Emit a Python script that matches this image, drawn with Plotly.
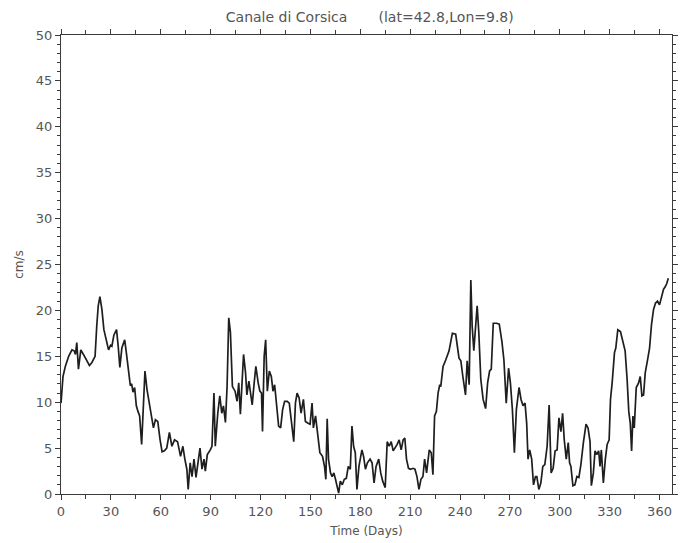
import plotly.graph_objects as go

# Daily mean current speed, Canale di Corsica (lat=42.8, Lon=9.8)
days = [
    0.0, 1.2, 2.6, 4.6, 6.6, 7.9, 8.7, 9.5, 10.5, 11.9, 13.5, 15.5, 17.1, 18.5, 20.5,
    21.5, 22.4, 23.4, 24.6, 25.8, 27.4, 28.6, 29.8, 30.6, 31.8, 33.4, 34.4, 35.4, 36.6,
    38.3, 39.3, 40.5, 41.7, 42.5, 43.3, 44.3, 45.3, 46.3, 47.3, 48.5, 49.7, 50.5, 51.7,
    52.8, 54.2, 55.6, 56.8, 58.2, 59.6, 60.8, 62.2, 63.6, 65.2, 66.7, 68.3, 70.1,
    71.9, 73.3, 74.5, 75.7, 76.5, 77.7, 78.8, 80.0, 81.2, 82.4, 83.6, 84.8, 86.0, 86.8,
    88.0, 89.8, 90.8, 92.0, 92.8, 94.3, 95.5, 96.7, 97.7, 98.9, 99.9, 100.9, 101.9,
    103.1, 104.7, 105.9, 106.9, 107.9, 108.8, 109.8, 111.0, 111.8, 113.0, 114.2, 115.0,
    116.2, 117.2, 118.6, 119.6, 120.6, 121.2, 122.2, 123.1, 124.1, 125.3, 126.5, 127.5,
    128.5, 129.7, 130.9, 132.1, 133.3, 134.5, 136.1, 137.3, 138.4, 140.0, 141.0, 142.0,
    143.2, 144.4,
    145.8, 147.0, 148.6, 149.8, 151.0, 151.8, 153.1, 154.5, 155.7, 157.3, 158.5, 159.3,
    160.1, 160.9, 162.1, 163.1, 164.1, 165.1, 166.1, 167.0, 168.0, 169.2, 170.4, 171.6,
    172.8, 174.0, 175.0, 176.0, 177.0, 178.0, 179.2, 181.0, 182.0, 183.1, 184.3, 185.9,
    187.1, 188.3, 189.5, 191.1, 192.3, 193.5, 195.0, 196.2, 197.4, 198.6, 199.8, 201.0,
    202.2, 203.4, 204.6, 205.8, 206.8, 207.8, 209.0, 210.2, 211.7, 212.9, 214.1, 215.3,
    216.5, 217.7,
    218.7, 219.9, 221.5, 222.7, 223.7, 224.7, 225.8, 226.8, 227.8, 228.4, 229.8, 231.4,
    233.4, 235.4, 237.4, 239.4, 240.5, 241.7, 243.3, 244.3, 245.5, 246.5, 247.3, 248.3,
    249.3, 250.3, 251.3, 252.5, 253.9, 255.4, 256.6, 257.8, 258.8, 260.0, 262.0, 263.6,
    265.2, 266.4, 267.8, 269.2, 270.3, 271.5, 272.7, 273.9, 275.5, 276.7, 277.9, 279.1,
    280.1, 280.9, 281.9, 283.1, 284.2, 285.4, 286.2, 287.4, 288.6, 289.8, 291.0,
    292.4, 293.6, 294.8, 296.0, 297.2, 298.4, 299.5, 300.7, 301.7, 302.7, 303.9, 305.1,
    305.9, 306.7, 307.9, 309.1, 310.3, 311.5, 312.7, 314.2, 315.8, 317.0, 318.2, 319.0,
    320.2, 321.2, 322.2, 323.4, 324.2, 325.0, 326.2, 327.4, 328.5, 329.7, 330.5, 331.5,
    332.9, 333.7, 334.9, 336.5, 338.1, 339.3, 340.5, 341.5, 342.4, 343.2, 344.0, 344.8,
    346.0, 347.4, 348.4, 349.4, 350.4, 351.4, 352.8, 354.0, 355.2, 356.4, 357.6, 358.8,
    360.0, 361.2, 362.4, 363.5, 364.3, 365.3,
]

speed = [
    9.9, 12.8, 13.9, 15.0, 15.7, 15.6, 15.2, 16.5, 13.6, 15.7, 15.2, 14.5, 14.0, 14.3, 15.0,
    18.3, 20.5, 21.5, 20.1, 17.9, 16.5, 15.7, 16.2, 16.1, 17.3, 17.9, 16.1, 13.8, 15.9,
    16.8, 15.4, 13.6, 11.8, 12.0, 11.1, 11.6, 9.6, 9.0, 8.5, 5.4, 10.3, 13.4, 11.4,
    10.3, 8.8, 7.2, 8.1, 7.9, 5.9, 4.6, 4.7, 5.0, 6.7, 5.2, 5.9, 5.7,
    4.1, 5.2, 3.8, 2.7, 0.5, 3.4, 1.9, 3.8, 1.8, 3.4, 5.0, 2.7, 3.8, 2.5,
    4.3, 4.8, 5.2, 11.0, 5.2, 8.8, 10.7, 8.8, 9.6, 7.8, 11.7, 19.2, 17.6,
    11.7, 11.2, 10.1, 12.1, 8.7, 12.5, 15.2, 13.2, 10.8, 12.3, 11.0, 9.7,
    12.1, 13.9, 12.1, 11.2, 11.0, 6.8, 15.0, 16.8, 11.2, 13.4, 12.8, 11.2,
    11.9, 9.9, 7.4, 7.2, 9.2, 10.1, 10.1, 9.9, 8.1, 5.7, 9.9, 11.0,
    10.5, 8.8,
    10.3, 7.9, 7.7, 7.6, 9.9, 7.2, 8.5, 5.9, 4.5, 4.1, 3.0, 1.6,
    8.2, 3.8, 2.3, 1.9, 2.3, 1.6, 0.8, 0.1, 1.4, 1.0, 1.6, 1.7,
    3.0, 2.7, 7.4, 5.2, 4.5, 0.5, 3.0, 4.8, 4.1, 2.7, 3.4, 3.8,
    3.4, 1.2, 3.0, 3.8, 2.3, 1.4, 0.7, 5.7, 5.2, 5.7, 4.7, 5.0,
    5.4, 5.9, 4.8, 5.9, 6.1, 3.8, 2.8, 2.7, 2.8, 2.7, 1.9, 0.5,
    1.6, 1.9,
    3.8, 2.3, 4.8, 4.5, 2.1, 8.5, 9.0, 11.0, 11.9, 11.7, 13.9, 14.6,
    15.6, 17.5, 17.4, 14.8, 14.5, 12.8, 10.8, 14.5, 11.9, 23.3, 18.3, 15.6,
    17.6, 20.5, 17.6, 12.5, 10.3, 9.3, 12.1, 13.4, 13.6, 18.6, 18.6, 18.5,
    16.6, 14.6, 9.9, 13.7, 12.1, 9.2, 4.5, 9.2, 11.6, 10.3, 9.6, 9.9,
    7.7, 3.8, 4.8, 3.8, 1.0, 1.9, 1.9, 0.5, 1.2, 3.0, 3.2,
    5.2, 9.7, 2.3, 2.8, 4.7, 4.8, 8.3, 6.8, 8.8, 5.9, 3.8, 5.6,
    3.4, 3.0, 0.9, 1.0, 1.9, 1.8, 3.2, 5.6, 7.6, 7.2, 5.7, 0.9,
    2.3, 4.7, 4.3, 4.7, 3.0, 4.8, 1.2, 3.8, 5.4, 5.9, 10.3, 12.1,
    15.4, 15.9, 17.9, 17.7, 16.6, 15.6, 12.5, 9.0, 7.7, 4.7, 8.5, 7.2,
    11.6, 12.1, 12.8, 10.7, 10.8, 13.2, 14.6, 15.9, 18.5, 20.1, 20.8, 21.0,
    20.6, 21.5, 22.3, 22.6, 22.9, 23.5,
]

x_ticks = [0, 30, 60, 90, 120, 150, 180, 210, 240, 270, 300, 330, 360]
y_ticks = [0, 5, 10, 15, 20, 25, 30, 35, 40, 45, 50]

title_text = "Canale di Corsica&nbsp;&nbsp;&nbsp;&nbsp;&nbsp;&nbsp;&nbsp;(lat=42.8,Lon=9.8)"

ink = "#3a3a3a"
label_ink = "#555555"
font_family = "DejaVu Sans"

fig = go.Figure()
fig.add_trace(go.Scatter(
    x=days, y=speed, mode="lines",
    line=dict(color="#1e1e1e", width=1.7),
    hoverinfo="x+y",
))

axis_common = dict(
    showgrid=False, zeroline=False,
    showline=True, linecolor=ink, linewidth=1, mirror="ticks",
    ticks="outside", ticklen=5, tickwidth=1, tickcolor=ink,
    tickfont=dict(family=font_family, size=13, color=label_ink),
)

fig.update_xaxes(
    range=[0, 367.5], tickmode="array", tickvals=x_ticks,
    minor=dict(dtick=15, tick0=0, ticks="outside", ticklen=4, tickcolor=ink),
    title=dict(text="Time (Days)", font=dict(family=font_family, size=12, color=label_ink),
               standoff=9),
    **axis_common,
)
fig.update_yaxes(
    range=[0, 50], tickmode="array", tickvals=y_ticks,
    minor=dict(dtick=1, tick0=0, ticks="outside", ticklen=3, tickcolor=ink),
    title=dict(text="cm/s", font=dict(family=font_family, size=12, color=label_ink),
               standoff=9),
    **axis_common,
)

fig.update_layout(
    width=681, height=543,
    margin=dict(l=61, r=3, t=35, b=49),
    paper_bgcolor="white", plot_bgcolor="white",
    showlegend=False,
    title=dict(text=title_text, x=0.543, xanchor="center", y=0.968, yanchor="middle",
               font=dict(family=font_family, size=14, color=label_ink)),
)

fig.write_html("out.html")
